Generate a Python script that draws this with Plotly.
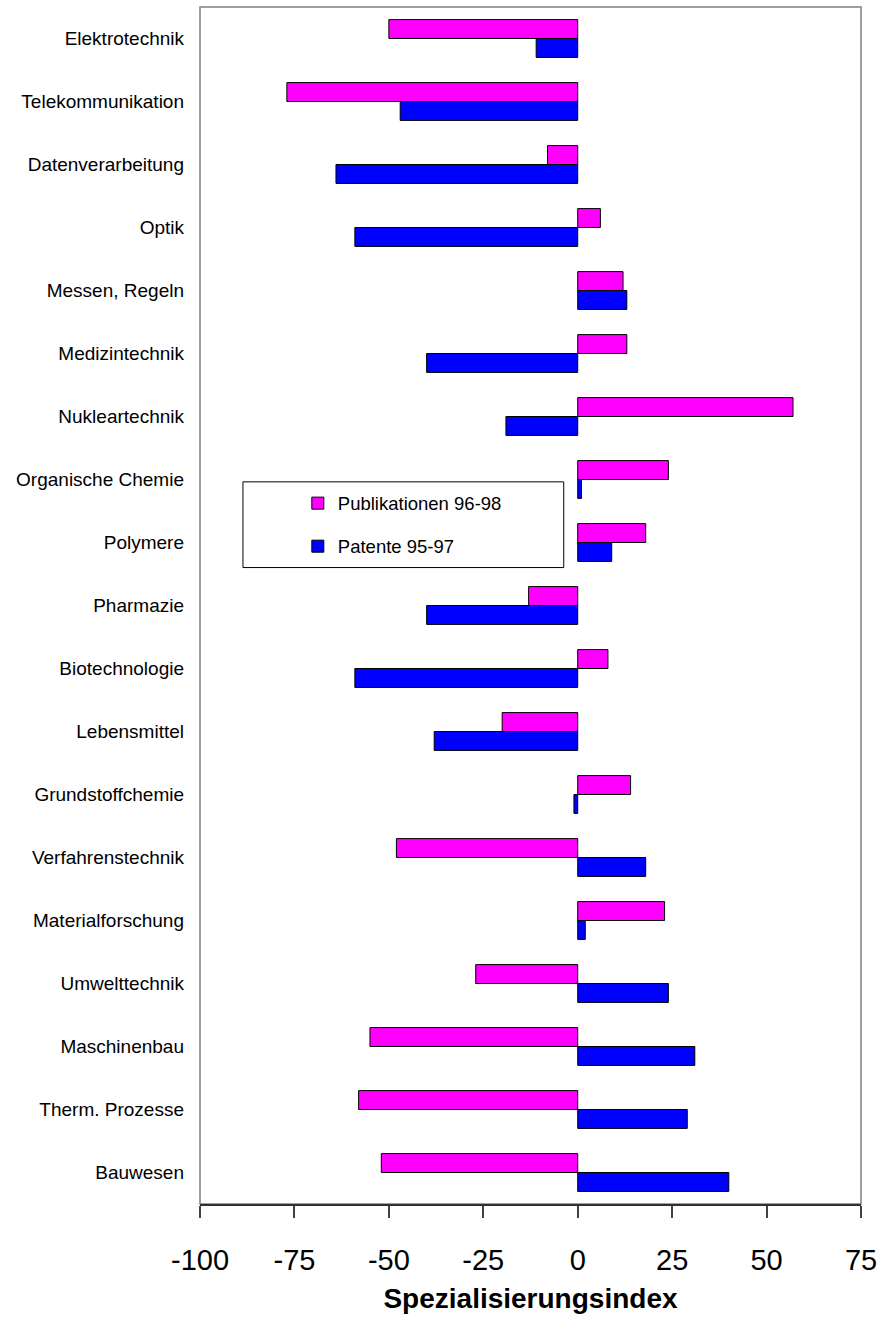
import plotly.graph_objects as go

# Technology fields, top to bottom
categories = [
    "Elektrotechnik", "Telekommunikation", "Datenverarbeitung", "Optik",
    "Messen, Regeln", "Medizintechnik", "Nukleartechnik", "Organische Chemie",
    "Polymere", "Pharmazie", "Biotechnologie", "Lebensmittel",
    "Grundstoffchemie", "Verfahrenstechnik", "Materialforschung",
    "Umwelttechnik", "Maschinenbau", "Therm. Prozesse", "Bauwesen",
]

# Specialisation index per field
publikationen = [-50, -77, -8, 6, 12, 13, 57, 24, 18, -13, 8, -20, 14, -48, 23, -27, -55, -58, -52]
patente = [-11, -47, -64, -59, 13, -40, -19, 1, 9, -40, -59, -38, -1, 18, 2, 24, 31, 29, 40]

x_ticks = [-100, -75, -50, -25, 0, 25, 50, 75]

FONT = "Liberation Sans Narrow, Arial Narrow, Liberation Sans, Arial, sans-serif"

idx = list(range(len(categories)))
y_range = [len(categories) - 0.5, -0.5]
boundaries = [i + 0.5 for i in idx[:-1]] + [-0.5, len(categories) - 0.5]

fig = go.Figure()
fig.add_bar(
    y=idx, x=publikationen, orientation="h", name="Publikationen 96-98",
    legendgroup="pub",
    marker=dict(color="#FF00FF", line=dict(color="#000000", width=1)),
)
fig.add_bar(
    y=idx, x=patente, orientation="h", name="Patente 95-97",
    legendgroup="pat",
    marker=dict(color="#0000FF", line=dict(color="#000000", width=1)),
)

zero_pos = (0 - x_ticks[0]) / (x_ticks[-1] - x_ticks[0])

fig.update_layout(
    width=879, height=1320,
    margin=dict(l=200, r=18, t=7, b=116),
    paper_bgcolor="white", plot_bgcolor="white",
    font=dict(family=FONT, color="#000000"),
    barmode="group", bargap=0.4, bargroupgap=0,
    showlegend=True,
    legend=dict(
        x=0.148, y=0.601, xanchor="left", yanchor="top",
        bgcolor="rgba(0,0,0,0)", borderwidth=0,
        font=dict(family=FONT, size=18.5),
        traceorder="grouped", tracegroupgap=16,
    ),
    xaxis=dict(
        range=[x_ticks[0], x_ticks[-1]], tickvals=x_ticks,
        ticktext=[str(v) for v in x_ticks],
        ticks="outside", ticklen=12, tickwidth=1.5, tickcolor="#404040",
        showline=True, linecolor="#303030", linewidth=1.5,
        showgrid=False, zeroline=False, automargin=False,
        tickfont=dict(family=FONT, size=29),
        ticklabelstandoff=17,
        title=dict(text="<b>Spezialisierungsindex</b>",
                   font=dict(family=FONT, size=28), standoff=14),
    ),
    yaxis=dict(
        range=y_range, tickvals=idx, ticktext=categories,
        ticks="", showline=False, showgrid=False, zeroline=False,
        automargin=False,
        tickfont=dict(family=FONT, size=19),
        ticklabelstandoff=15,
    ),
    yaxis2=dict(
        overlaying="y", anchor="free", position=zero_pos, side="left",
        range=y_range, tickvals=boundaries, showticklabels=False,
        ticks="outside", ticklen=7, tickwidth=1.5, tickcolor="#303030",
        showline=True, linecolor="#808080", linewidth=1.5,
        showgrid=False, zeroline=False, automargin=False,
    ),
    shapes=[
        # plot frame
        dict(type="rect", xref="paper", yref="paper", x0=0, y0=0, x1=1, y1=1,
             line=dict(color="#808080", width=1.5), layer="below"),
        # legend box
        dict(type="rect", xref="paper", yref="paper",
             x0=0.065, y0=0.5317, x1=0.5503, y1=0.6033,
             line=dict(color="#000000", width=1), fillcolor="white",
             layer="above"),
    ],
)

fig.write_html("out.html")
